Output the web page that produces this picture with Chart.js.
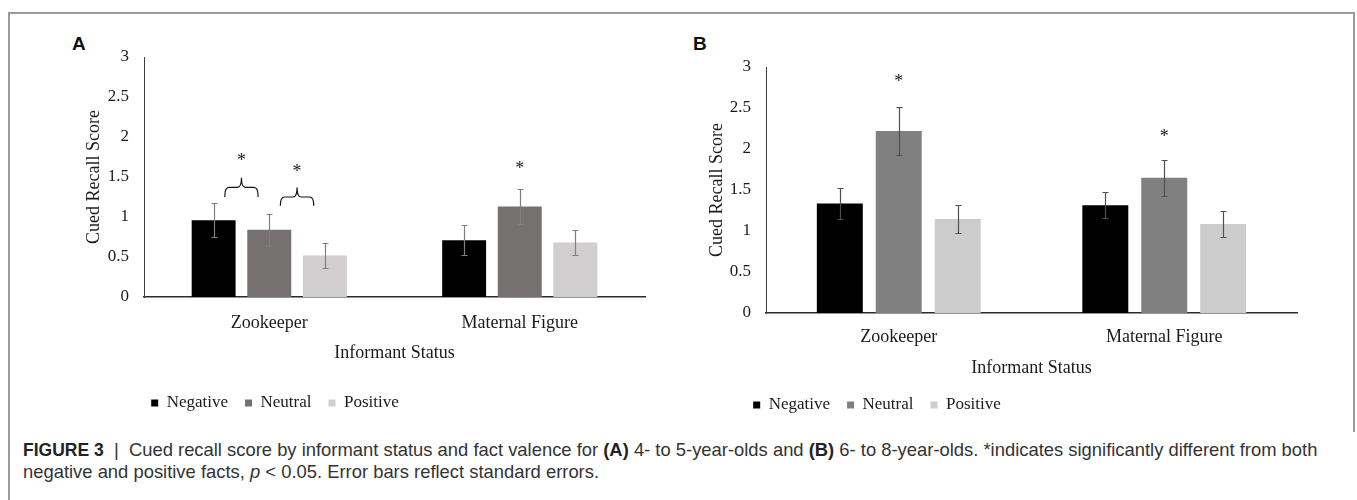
<!DOCTYPE html>
<html><head><meta charset="utf-8">
<script src="https://cdn.jsdelivr.net/npm/chart.js@4.4.0/dist/chart.umd.min.js"></script>
<style>
html,body{margin:0;padding:0;background:#fff;}
body{width:1357px;height:500px;position:relative;overflow:hidden;}
.frame{position:absolute;background:#9a9a9a;}
.panel{position:absolute;font:bold 19px "Liberation Sans",Arial,sans-serif;color:#111;line-height:19px;}
.cap{position:absolute;left:23px;font:18.4px "Liberation Sans",Arial,sans-serif;color:#333;white-space:nowrap;line-height:22px;}
.cap b.fig{color:#222;font-size:17.5px;}
.cap b{color:#222;}
canvas{position:absolute;}
</style></head><body>
<div class="frame" style="left:8px;top:12px;width:1347px;height:2px"></div>
<div class="frame" style="left:8px;top:12px;width:2px;height:488px"></div>
<div class="frame" style="left:1353px;top:12px;width:2px;height:420px"></div>
<div class="panel" style="left:72px;top:34px">A</div>
<div class="panel" style="left:693px;top:34px">B</div>
<canvas id="chartA" width="660" height="420" style="left:20px;top:10px"></canvas>
<canvas id="chartB" width="650" height="420" style="left:690px;top:10px"></canvas>
<div class="cap" style="top:439px"><b class="fig">FIGURE 3</b>&nbsp; |&nbsp; Cued recall score by informant status and fact valence for <b>(A)</b> 4- to 5-year-olds and <b>(B)</b> 6- to 8-year-olds. *indicates significantly different from both</div>
<div class="cap" style="top:461px">negative and positive facts, <i>p</i> &lt; 0.05. Error bars reflect standard errors.</div>
<script>
// ---- data ----
const categories = ['Zookeeper', 'Maternal Figure'];
const seriesNames = ['Negative', 'Neutral', 'Positive'];
const yTicks = [0, 0.5, 1, 1.5, 2, 2.5, 3];

// Panel A: 4- to 5-year-olds
const negativeA = [0.96, 0.71];
const neutralA = [0.84, 1.13];
const positiveA = [0.52, 0.68];
const negativeErrA = [0.21, 0.19];
const neutralErrA = [0.20, 0.22];
const positiveErrA = [0.155, 0.16];

// Panel B: 6- to 8-year-olds
const negativeB = [1.335, 1.315];
const neutralB = [2.22, 1.65];
const positiveB = [1.145, 1.085];
const negativeErrB = [0.19, 0.16];
const neutralErrB = [0.29, 0.22];
const positiveErrB = [0.17, 0.16];

// significance markers (value space)
const bracketsA = [
  {cat: 0, from: 0, to: 1, end: 1.25, mid: 1.37, peak: 1.49, star: 1.76},
  {cat: 0, from: 1, to: 2, end: 1.14, mid: 1.25, peak: 1.37, star: 1.62}
];
const starsA = [{cat: 1, series: 1, value: 1.66}];
const bracketsB = [];
const starsB = [{cat: 0, series: 1, value: 2.88}, {cat: 1, series: 1, value: 2.21}];

// ---- drawing ----
const SERIF = "'Liberation Serif', 'Times New Roman', serif";
const TXT = '#1a1a1a';

const annot = {
  id: 'annot',
  afterDatasetsDraw(chart, args, o) {
    const ctx = chart.ctx, y = chart.scales.y;
    ctx.save();
    ctx.strokeStyle = o.errColor; ctx.lineWidth = 1.2;
    chart.data.datasets.forEach((ds, i) => {
      chart.getDatasetMeta(i).data.forEach((bar, j) => {
        const v = ds.data[j], e = ds.errors[j];
        const x = Math.round(bar.x) + 0.5;
        const yt = Math.round(y.getPixelForValue(v + e)) + 0.5;
        const yb = Math.round(y.getPixelForValue(v - e)) + 0.5;
        ctx.beginPath();
        ctx.moveTo(x, yt); ctx.lineTo(x, yb);
        ctx.moveTo(x - 3, yt); ctx.lineTo(x + 3, yt);
        ctx.moveTo(x - 3, yb); ctx.lineTo(x + 3, yb);
        ctx.stroke();
      });
    });
    const bx = (s, c) => chart.getDatasetMeta(s).data[c].x;
    ctx.fillStyle = TXT;
    ctx.font = '18px ' + SERIF;
    ctx.textAlign = 'center';
    ctx.textBaseline = 'alphabetic';
    const star = (x, v) => ctx.fillText('*', x, y.getPixelForValue(v) + 10);
    ctx.strokeStyle = '#111'; ctx.lineWidth = 1.2;
    (o.brackets || []).forEach(b => {
      const x0c = bx(b.from, b.cat), x1c = bx(b.to, b.cat);
      const xc = (x0c + x1c) / 2, hw = (x1c - x0c) * 0.3, r = 4;
      const x0 = xc - hw, x1 = xc + hw;
      const ye = y.getPixelForValue(b.end), ym = y.getPixelForValue(b.mid), yp = y.getPixelForValue(b.peak);
      ctx.beginPath();
      ctx.moveTo(x0, ye);
      ctx.quadraticCurveTo(x0, ym, x0 + r, ym);
      ctx.lineTo(xc - r, ym);
      ctx.quadraticCurveTo(xc, ym, xc, yp);
      ctx.quadraticCurveTo(xc, ym, xc + r, ym);
      ctx.lineTo(x1 - r, ym);
      ctx.quadraticCurveTo(x1, ym, x1, ye);
      ctx.stroke();
      star(xc, b.star);
    });
    (o.stars || []).forEach(s => star(bx(s.series, s.cat), s.value));
    ctx.restore();
  }
};

const legendPlace = {
  id: 'legendPlace',
  beforeDraw(chart, args, o) {
    const lg = chart.legend; if (!lg) return;
    const w = lg.right - lg.left, h = lg.bottom - lg.top;
    const lo = chart.options.plugins.legend.labels;
    lg.left = o.cx - w / 2; lg.right = o.cx + w / 2;
    lg.top = o.cy - lo.padding - lo.font.size / 2; lg.bottom = lg.top + h;
  }
};

function makeChart(id, vals, errs, colors, cfg) {
  const datasets = seriesNames.map((name, i) => ({
    label: name,
    data: vals[i],
    errors: errs[i],
    backgroundColor: colors[i],
    borderWidth: 0,
    categoryPercentage: 0.666,
    barPercentage: cfg.barPct
  }));
  return new Chart(document.getElementById(id), {
    type: 'bar',
    data: {labels: categories, datasets},
    plugins: [annot, legendPlace],
    options: {
      responsive: false, animation: false, devicePixelRatio: 1,
      layout: {padding: cfg.pad},
      plugins: {
        tooltip: {enabled: false},
        legend: {
          position: 'bottom',
          labels: {boxWidth: 7, boxHeight: 7, padding: 17, color: TXT, font: {family: SERIF, size: 17}}
        },
        legendPlace: {cx: cfg.legendX, cy: cfg.legendY},
        annot: {errColor: cfg.errColor, brackets: cfg.brackets, stars: cfg.stars}
      },
      scales: {
        x: {
          grid: {display: false, drawTicks: false},
          border: {display: true, color: '#2b2b2b', width: 1.5},
          ticks: {padding: cfg.xTickPad, color: TXT, font: {family: SERIF, size: 18}},
          title: {display: true, text: 'Informant Status', color: TXT, font: {family: SERIF, size: 18}, padding: {top: 0, bottom: 4}},
          afterFit: s => { s.height = cfg.xH; }
        },
        y: {
          min: 0, max: 3,
          grid: {display: false, drawTicks: false},
          border: {display: true, color: '#404040', width: 1},
          ticks: {padding: 15, color: TXT, font: {family: SERIF, size: 17}, callback: v => String(v)},
          afterBuildTicks: s => { s.ticks = yTicks.map(v => ({value: v})); },
          title: {display: true, text: 'Cued Recall Score', color: TXT, font: {family: SERIF, size: 18}, padding: {top: 4, bottom: 4}},
          afterFit: s => { s.width = cfg.yW; }
        }
      }
    }
  });
}

makeChart('chartA',
  [negativeA, neutralA, positiveA],
  [negativeErrA, neutralErrA, positiveErrA],
  ['#000000', '#767171', '#d0cece'],
  {barPct: 0.79, pad: {left: 59, right: 35, top: 47, bottom: 18}, yW: 65, xH: 71, xTickPad: 15,
   legendX: 255, legendY: 393, errColor: '#7f7f7f', brackets: bracketsA, stars: starsA});

makeChart('chartB',
  [negativeB, neutralB, positiveB],
  [negativeErrB, neutralErrB, positiveErrB],
  ['#000000', '#808080', '#cccccc'],
  {barPct: 0.78, pad: {left: 12, right: 43, top: 57, bottom: 3}, yW: 64, xH: 70, xTickPad: 13,
   legendX: 187, legendY: 395, errColor: '#505050', brackets: bracketsB, stars: starsB});
</script>
</body></html>
